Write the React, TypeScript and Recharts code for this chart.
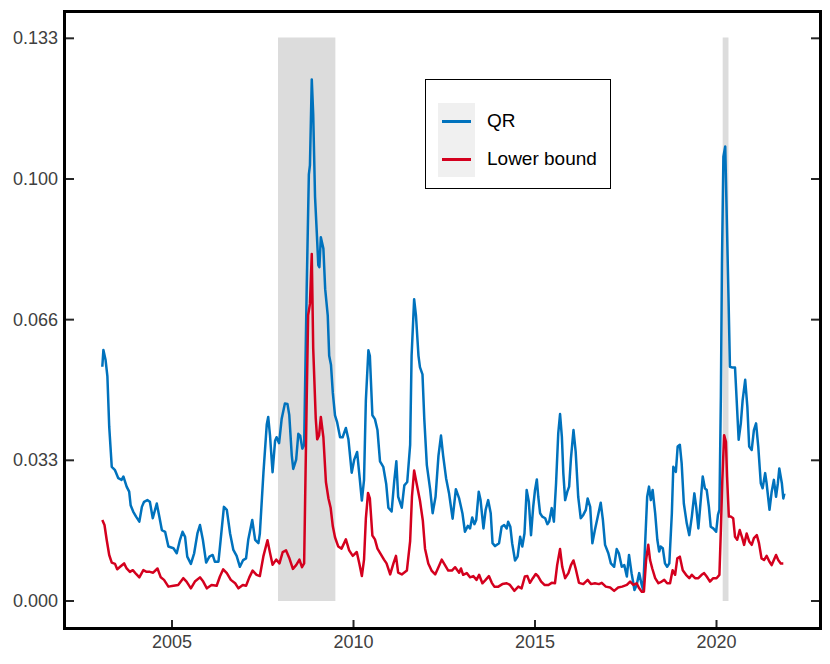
import React from "react";
import {
  LineChart,
  Line,
  XAxis,
  YAxis,
  ReferenceArea,
} from "recharts";

// ---- data (decimal years, values) ----
const qrDates = [
  2003.08, 2003.11, 2003.17, 2003.22, 2003.27, 2003.34, 2003.43, 2003.52, 2003.61, 2003.66,
  2003.75, 2003.82, 2003.86, 2003.93, 2004.01, 2004.10, 2004.17, 2004.23, 2004.32, 2004.39,
  2004.47, 2004.58, 2004.65, 2004.72, 2004.81, 2004.90, 2005.04, 2005.13, 2005.22, 2005.29,
  2005.36, 2005.42, 2005.52, 2005.61, 2005.70, 2005.77, 2005.85, 2005.94, 2006.03, 2006.12,
  2006.18, 2006.28, 2006.34, 2006.43, 2006.51, 2006.60, 2006.69, 2006.78, 2006.87, 2006.96,
  2007.04, 2007.10, 2007.21, 2007.29, 2007.38, 2007.42, 2007.52, 2007.61, 2007.65, 2007.70,
  2007.77, 2007.84, 2007.88, 2007.95, 2008.02, 2008.11, 2008.18, 2008.23, 2008.30, 2008.34,
  2008.42, 2008.48, 2008.53, 2008.59, 2008.64, 2008.71, 2008.77, 2008.80, 2008.85, 2008.89,
  2008.94, 2008.99, 2009.03, 2009.06, 2009.10, 2009.17, 2009.22, 2009.29, 2009.33, 2009.38,
  2009.43, 2009.49, 2009.55, 2009.63, 2009.70, 2009.79, 2009.86, 2009.95, 2010.02, 2010.10,
  2010.16, 2010.23, 2010.29, 2010.34, 2010.41, 2010.45, 2010.52, 2010.59, 2010.66, 2010.73,
  2010.82, 2010.90, 2010.96, 2011.05, 2011.12, 2011.18, 2011.23, 2011.33, 2011.40, 2011.48,
  2011.56, 2011.60, 2011.67, 2011.72, 2011.79, 2011.83, 2011.90, 2011.95, 2012.02, 2012.11,
  2012.18, 2012.26, 2012.34, 2012.41, 2012.47, 2012.55, 2012.63, 2012.73, 2012.82, 2012.91,
  2013.00, 2013.07, 2013.15, 2013.21, 2013.27, 2013.33, 2013.38, 2013.45, 2013.50, 2013.58,
  2013.64, 2013.71, 2013.78, 2013.83, 2013.90, 2014.01, 2014.08, 2014.15, 2014.22, 2014.26,
  2014.32, 2014.37, 2014.45, 2014.52, 2014.59, 2014.65, 2014.71, 2014.77, 2014.83, 2014.89,
  2014.95, 2015.00, 2015.05, 2015.09, 2015.14, 2015.20, 2015.28, 2015.34, 2015.39, 2015.46,
  2015.52, 2015.58, 2015.64, 2015.69, 2015.74, 2015.78, 2015.83, 2015.89, 2015.94, 2015.99,
  2016.06, 2016.12, 2016.19, 2016.26, 2016.33, 2016.40, 2016.45, 2016.52, 2016.58, 2016.65,
  2016.73, 2016.81, 2016.87, 2016.93, 2017.02, 2017.09, 2017.18, 2017.25, 2017.31, 2017.39,
  2017.46, 2017.53, 2017.59, 2017.66, 2017.74, 2017.80, 2017.87, 2017.94, 2017.98, 2018.03,
  2018.09, 2018.14, 2018.19, 2018.24, 2018.31, 2018.37, 2018.42, 2018.46, 2018.52, 2018.58,
  2018.64, 2018.70, 2018.77, 2018.81, 2018.88, 2018.93, 2018.99, 2019.04, 2019.10, 2019.18,
  2019.25, 2019.32, 2019.39, 2019.44, 2019.50, 2019.57, 2019.62, 2019.68, 2019.73, 2019.79,
  2019.84, 2019.91, 2019.99, 2020.04, 2020.08, 2020.12, 2020.15, 2020.19, 2020.24, 2020.28,
  2020.33, 2020.37, 2020.44, 2020.51, 2020.56, 2020.61, 2020.67, 2020.72, 2020.79, 2020.85,
  2020.90, 2020.97, 2021.03, 2021.09, 2021.15, 2021.22, 2021.27, 2021.34, 2021.38, 2021.46,
  2021.52, 2021.58, 2021.64, 2021.69, 2021.73, 2021.80, 2021.84, 2021.87,
];

const qrValues = [
  0.0555, 0.0595, 0.0571, 0.0532, 0.0413, 0.0318, 0.0310, 0.0291, 0.0287, 0.0295,
  0.0271, 0.0259, 0.0227, 0.0212, 0.0200, 0.0188, 0.0223, 0.0235, 0.0239, 0.0235,
  0.0196, 0.0231, 0.0200, 0.0168, 0.0164, 0.0129, 0.0125, 0.0113, 0.0145, 0.0164,
  0.0152, 0.0105, 0.0088, 0.0113, 0.0160, 0.0180, 0.0145, 0.0091, 0.0105, 0.0109,
  0.0093, 0.0093, 0.0145, 0.0223, 0.0216, 0.0160, 0.0121, 0.0107, 0.0081, 0.0097,
  0.0101, 0.0145, 0.0192, 0.0145, 0.0137, 0.0160, 0.0306, 0.0418, 0.0436, 0.0392,
  0.0305, 0.0380, 0.0388, 0.0374, 0.0431, 0.0468, 0.0467, 0.0441, 0.0344, 0.0313,
  0.0335, 0.0396, 0.0392, 0.0361, 0.0370, 0.0739, 0.1011, 0.1033, 0.1236, 0.1152,
  0.0958, 0.0870, 0.0796, 0.0791, 0.0862, 0.0835, 0.0739, 0.0677, 0.0581, 0.0559,
  0.0493, 0.0440, 0.0423, 0.0388, 0.0388, 0.0410, 0.0383, 0.0304, 0.0335, 0.0353,
  0.0300, 0.0238, 0.0287, 0.0475, 0.0594, 0.0581, 0.0440, 0.0431, 0.0405, 0.0331,
  0.0318, 0.0278, 0.0221, 0.0212, 0.0282, 0.0331, 0.0247, 0.0221, 0.0274, 0.0282,
  0.0370, 0.0581, 0.0715, 0.0677, 0.0581, 0.0554, 0.0537, 0.0431, 0.0322, 0.0265,
  0.0208, 0.0247, 0.0344, 0.0392, 0.0344, 0.0291, 0.0256, 0.0195, 0.0265, 0.0243,
  0.0208, 0.0164, 0.0178, 0.0172, 0.0198, 0.0182, 0.0192, 0.0259, 0.0239, 0.0172,
  0.0216, 0.0239, 0.0208, 0.0137, 0.0130, 0.0137, 0.0176, 0.0180, 0.0172, 0.0188,
  0.0176, 0.0137, 0.0096, 0.0105, 0.0152, 0.0129, 0.0160, 0.0263, 0.0235, 0.0156,
  0.0223, 0.0263, 0.0288, 0.0247, 0.0208, 0.0200, 0.0196, 0.0182, 0.0188, 0.0220,
  0.0188, 0.0279, 0.0397, 0.0443, 0.0389, 0.0303, 0.0239, 0.0259, 0.0271, 0.0338,
  0.0405, 0.0354, 0.0247, 0.0196, 0.0204, 0.0216, 0.0243, 0.0223, 0.0137, 0.0168,
  0.0200, 0.0233, 0.0192, 0.0133, 0.0113, 0.0089, 0.0081, 0.0123, 0.0113, 0.0081,
  0.0085, 0.0058, 0.0109, 0.0066, 0.0026, 0.0038, 0.0066, 0.0038, 0.0026, 0.0129,
  0.0247, 0.0271, 0.0239, 0.0263, 0.0208, 0.0145, 0.0117, 0.0129, 0.0125, 0.0089,
  0.0081, 0.0089, 0.0208, 0.0318, 0.0306, 0.0366, 0.0370, 0.0326, 0.0231, 0.0184,
  0.0156, 0.0200, 0.0255, 0.0223, 0.0172, 0.0243, 0.0295, 0.0267, 0.0263, 0.0223,
  0.0176, 0.0172, 0.0164, 0.0204, 0.0216, 0.0484, 0.0800, 0.1053, 0.1077, 0.0919,
  0.0721, 0.0555, 0.0553, 0.0553, 0.0468, 0.0382, 0.0421, 0.0476, 0.0524, 0.0460,
  0.0366, 0.0358, 0.0405, 0.0421, 0.0366, 0.0279, 0.0267, 0.0303, 0.0279, 0.0216,
  0.0259, 0.0287, 0.0247, 0.0279, 0.0314, 0.0279, 0.0243, 0.0255,
];

const lbDates = [
  2003.08, 2003.14, 2003.20, 2003.27, 2003.34, 2003.43, 2003.49, 2003.57, 2003.68, 2003.75,
  2003.84, 2003.92, 2004.01, 2004.10, 2004.21, 2004.30, 2004.39, 2004.48, 2004.60, 2004.69,
  2004.78, 2004.90, 2005.04, 2005.17, 2005.31, 2005.40, 2005.52, 2005.63, 2005.77, 2005.86,
  2005.96, 2006.09, 2006.23, 2006.32, 2006.41, 2006.51, 2006.62, 2006.74, 2006.83, 2006.95,
  2007.04, 2007.13, 2007.22, 2007.33, 2007.42, 2007.52, 2007.63, 2007.70, 2007.77, 2007.87,
  2007.96, 2008.05, 2008.14, 2008.23, 2008.33, 2008.42, 2008.51, 2008.58, 2008.64, 2008.71,
  2008.75, 2008.80, 2008.85, 2008.89, 2008.96, 2009.00, 2009.05, 2009.10, 2009.17, 2009.24,
  2009.31, 2009.37, 2009.43, 2009.49, 2009.58, 2009.67, 2009.79, 2009.88, 2009.98, 2010.09,
  2010.16, 2010.23, 2010.29, 2010.34, 2010.40, 2010.45, 2010.52, 2010.59, 2010.66, 2010.75,
  2010.84, 2010.91, 2011.01, 2011.10, 2011.17, 2011.23, 2011.33, 2011.47, 2011.56, 2011.61,
  2011.67, 2011.74, 2011.83, 2011.91, 2011.97, 2012.06, 2012.15, 2012.25, 2012.34, 2012.43,
  2012.52, 2012.61, 2012.71, 2012.80, 2012.91, 2012.96, 2013.02, 2013.12, 2013.21, 2013.30,
  2013.39, 2013.46, 2013.55, 2013.64, 2013.73, 2013.81, 2013.88, 2013.99, 2014.10, 2014.22,
  2014.31, 2014.43, 2014.54, 2014.63, 2014.72, 2014.79, 2014.86, 2014.94, 2015.02, 2015.09,
  2015.17, 2015.26, 2015.37, 2015.46, 2015.55, 2015.61, 2015.69, 2015.75, 2015.83, 2015.92,
  2015.99, 2016.06, 2016.12, 2016.21, 2016.33, 2016.45, 2016.54, 2016.65, 2016.76, 2016.84,
  2016.95, 2017.07, 2017.18, 2017.29, 2017.40, 2017.53, 2017.62, 2017.71, 2017.80, 2017.87,
  2017.94, 2018.00, 2018.06, 2018.12, 2018.17, 2018.23, 2018.31, 2018.40, 2018.49, 2018.56,
  2018.64, 2018.72, 2018.79, 2018.86, 2018.92, 2018.99, 2019.07, 2019.16, 2019.25, 2019.32,
  2019.41, 2019.50, 2019.59, 2019.66, 2019.73, 2019.82, 2019.91, 2020.00, 2020.08, 2020.12,
  2020.16, 2020.21, 2020.26, 2020.29, 2020.34, 2020.39, 2020.46, 2020.51, 2020.57, 2020.64,
  2020.71, 2020.76, 2020.83, 2020.90, 2020.97, 2021.03, 2021.11, 2021.17, 2021.24, 2021.31,
  2021.38, 2021.46, 2021.52, 2021.58, 2021.64, 2021.70, 2021.77, 2021.84,
];

const lbValues = [
  0.0192, 0.0180, 0.0145, 0.0109, 0.0091, 0.0088, 0.0075, 0.0081, 0.0089, 0.0077,
  0.0069, 0.0073, 0.0064, 0.0056, 0.0073, 0.0069, 0.0069, 0.0067, 0.0077, 0.0056,
  0.0050, 0.0034, 0.0036, 0.0038, 0.0054, 0.0046, 0.0030, 0.0046, 0.0056, 0.0046,
  0.0030, 0.0038, 0.0036, 0.0058, 0.0075, 0.0066, 0.0050, 0.0042, 0.0030, 0.0038,
  0.0036, 0.0056, 0.0072, 0.0062, 0.0059, 0.0107, 0.0144, 0.0114, 0.0086, 0.0098,
  0.0089, 0.0116, 0.0120, 0.0102, 0.0076, 0.0085, 0.0098, 0.0080, 0.0089, 0.0475,
  0.0677, 0.0704, 0.0822, 0.0598, 0.0432, 0.0383, 0.0392, 0.0436, 0.0388, 0.0282,
  0.0243, 0.0221, 0.0177, 0.0151, 0.0129, 0.0124, 0.0146, 0.0120, 0.0107, 0.0116,
  0.0089, 0.0059, 0.0098, 0.0195, 0.0256, 0.0243, 0.0155, 0.0146, 0.0124, 0.0111,
  0.0098, 0.0089, 0.0063, 0.0089, 0.0107, 0.0067, 0.0063, 0.0072, 0.0142, 0.0247,
  0.0309, 0.0278, 0.0238, 0.0190, 0.0124, 0.0089, 0.0072, 0.0063, 0.0080, 0.0098,
  0.0085, 0.0072, 0.0072, 0.0080, 0.0067, 0.0077, 0.0062, 0.0066, 0.0056, 0.0059,
  0.0050, 0.0062, 0.0042, 0.0050, 0.0059, 0.0043, 0.0034, 0.0034, 0.0040, 0.0042,
  0.0038, 0.0024, 0.0034, 0.0030, 0.0058, 0.0059, 0.0043, 0.0054, 0.0064, 0.0058,
  0.0046, 0.0038, 0.0038, 0.0043, 0.0042, 0.0085, 0.0123, 0.0081, 0.0054, 0.0066,
  0.0085, 0.0096, 0.0077, 0.0043, 0.0040, 0.0050, 0.0040, 0.0042, 0.0040, 0.0043,
  0.0034, 0.0032, 0.0024, 0.0032, 0.0034, 0.0038, 0.0046, 0.0038, 0.0042, 0.0030,
  0.0022, 0.0022, 0.0097, 0.0133, 0.0097, 0.0077, 0.0054, 0.0042, 0.0046, 0.0050,
  0.0042, 0.0042, 0.0073, 0.0062, 0.0101, 0.0105, 0.0073, 0.0062, 0.0054, 0.0062,
  0.0054, 0.0054, 0.0062, 0.0066, 0.0058, 0.0046, 0.0054, 0.0054, 0.0062, 0.0168,
  0.0287, 0.0393, 0.0377, 0.0295, 0.0200, 0.0200, 0.0196, 0.0152, 0.0145, 0.0168,
  0.0149, 0.0133, 0.0160, 0.0141, 0.0133, 0.0149, 0.0156, 0.0137, 0.0101, 0.0097,
  0.0107, 0.0093, 0.0085, 0.0097, 0.0109, 0.0097, 0.0089, 0.0089,
];

const recessions = [
  [2007.92, 2009.5],
  [2020.17, 2020.33],
];

const xTicks = [2005, 2010, 2015, 2020];
const yTicks = [0, 0.1 / 3, 0.2 / 3, 0.1, 0.4 / 3];
const yTickLabels = ["0.000", "0.033", "0.066", "0.100", "0.133"];
const seriesNames = ["QR", "Lower bound"];

const qrData = qrDates.map((t, i) => ({ t, v: qrValues[i] }));
const lbData = lbDates.map((t, i) => ({ t, v: lbValues[i] }));

const BLUE = "#0072BD";
const RED = "#D4001E";
const FONT = "'Liberation Sans', Arial, Helvetica, sans-serif";
const TICK_COLOR = "#404040";

const renderLeftTick = (props: any) => {
  const { x, y, payload } = props;
  const idx = yTicks.findIndex((t) => Math.abs(t - payload.value) < 1e-6);
  return (
    <g>
      <line x1={x} y1={y} x2={x + 9} y2={y} stroke="#262626" strokeWidth={2} />
      <text
        x={x - 7}
        y={y}
        textAnchor="end"
        dominantBaseline="central"
        fontSize={18}
        fontFamily={FONT}
        fill={TICK_COLOR}
      >
        {idx >= 0 ? yTickLabels[idx] : ""}
      </text>
    </g>
  );
};

const renderRightTick = (props: any) => {
  const { x, y } = props;
  return <line x1={x - 9} y1={y} x2={x} y2={y} stroke="#262626" strokeWidth={2} />;
};

const renderBottomTick = (props: any) => {
  const { x, y, payload } = props;
  return (
    <g>
      <line x1={x} y1={y - 9} x2={x} y2={y} stroke="#262626" strokeWidth={2} />
      <text
        x={x}
        y={y + 19}
        textAnchor="middle"
        fontSize={18}
        fontFamily={FONT}
        fill={TICK_COLOR}
      >
        {payload.value}
      </text>
    </g>
  );
};

export default function App() {
  return (
    <div
      style={{
        position: "absolute",
        left: 0,
        top: 0,
        width: 830,
        height: 664,
        background: "#ffffff",
        fontFamily: FONT,
      }}
    >
      <LineChart
        width={830}
        height={664}
        margin={{ top: 12, right: 0, bottom: 0, left: 0 }}
      >
        <XAxis
          type="number"
          dataKey="t"
          domain={[2002.052, 2022.851]}
          ticks={xTicks}
          interval={0}
          allowDataOverflow
          height={35}
          tickSize={0}
          tickMargin={0}
          axisLine={false}
          tickLine={false}
          tick={renderBottomTick}
        />
        <YAxis
          yAxisId="left"
          type="number"
          domain={[-0.00664, 0.13957]}
          ticks={yTicks}
          interval={0}
          allowDataOverflow
          width={65}
          tickSize={0}
          tickMargin={0}
          axisLine={false}
          tickLine={false}
          tick={renderLeftTick}
        />
        <YAxis
          yAxisId="right"
          orientation="right"
          type="number"
          domain={[-0.00664, 0.13957]}
          ticks={yTicks}
          interval={0}
          allowDataOverflow
          width={10}
          tickSize={0}
          tickMargin={0}
          axisLine={false}
          tickLine={false}
          tick={renderRightTick}
        />
        {recessions.map(([a, b], i) => (
          <ReferenceArea
            key={i}
            yAxisId="left"
            x1={a}
            x2={b}
            y1={0}
            y2={0.1335}
            fill="#DCDCDC"
            fillOpacity={1}
            stroke="none"
          />
        ))}
        <Line
          yAxisId="left"
          data={qrData}
          dataKey="v"
          name={seriesNames[0]}
          type="linear"
          stroke={BLUE}
          strokeWidth={2.5}
          strokeLinejoin="round"
          dot={false}
          isAnimationActive={false}
        />
        <Line
          yAxisId="left"
          data={lbData}
          dataKey="v"
          name={seriesNames[1]}
          type="linear"
          stroke={RED}
          strokeWidth={2.5}
          strokeLinejoin="round"
          dot={false}
          isAnimationActive={false}
        />
      </LineChart>

      {/* frame */}
      <div
        style={{
          position: "absolute",
          left: 63,
          top: 10,
          width: 759,
          height: 620,
          border: "3px solid #000",
          boxSizing: "border-box",
          pointerEvents: "none",
        }}
      />

      {/* legend */}
      <div
        style={{
          position: "absolute",
          left: 425,
          top: 79,
          width: 186,
          height: 110,
          border: "1.5px solid #000",
          boxSizing: "border-box",
          background: "#fff",
        }}
      />
      <div
        style={{
          position: "absolute",
          left: 438,
          top: 103,
          width: 37,
          height: 74,
          background: "#F0F0F0",
        }}
      />
      {[BLUE, RED].map((c, i) => (
        <div
          key={"s" + i}
          style={{
            position: "absolute",
            left: 442,
            top: 120 + i * 38,
            width: 29,
            height: 2.5,
            background: c,
          }}
        />
      ))}
      {seriesNames.map((n, i) => (
        <div
          key={"n" + i}
          style={{
            position: "absolute",
            left: 487,
            top: 121 + i * 38 - 12,
            height: 24,
            lineHeight: "24px",
            fontSize: 19,
            color: "#000",
            whiteSpace: "nowrap",
          }}
        >
          {n}
        </div>
      ))}
    </div>
  );
}
